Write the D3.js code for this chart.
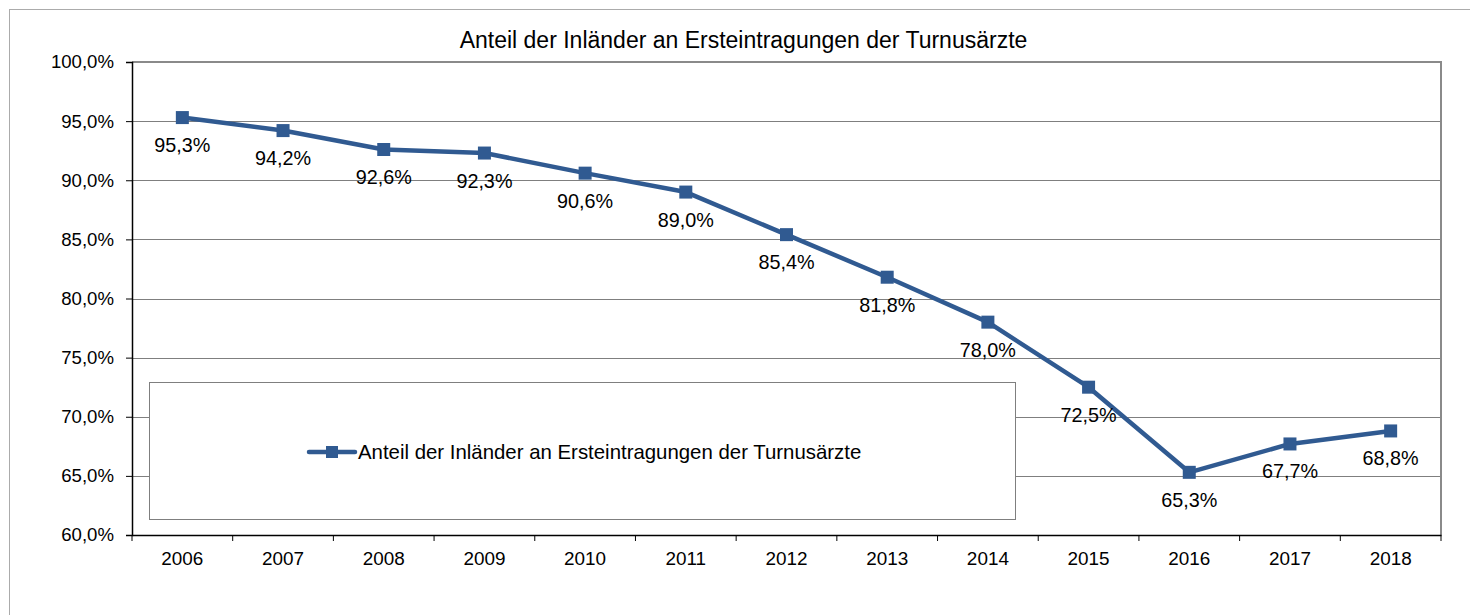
<!DOCTYPE html>
<html>
<head>
<meta charset="utf-8">
<script src="https://cdn.jsdelivr.net/npm/d3@7"></script>
<style>
html,body{margin:0;padding:0;background:#fff;}
svg{display:block;font-family:"Liberation Sans",Arial,sans-serif;}
</style>
</head>
<body>
<svg id="chart" width="1470" height="615"></svg>
<script>
const title = "Anteil der Inländer an Ersteintragungen der Turnusärzte";
const seriesName = "Anteil der Inländer an Ersteintragungen der Turnusärzte";
const years = ["2006","2007","2008","2009","2010","2011","2012","2013","2014","2015","2016","2017","2018"];
const values = [95.3, 94.2, 92.6, 92.3, 90.6, 89.0, 85.4, 81.8, 78.0, 72.5, 65.3, 67.7, 68.8];
const yTicks = [60, 65, 70, 75, 80, 85, 90, 95, 100];

const svg = d3.select("#chart");
const W = 1470, H = 615;
const m = {left:132, top:62, right:1441, bottom:535};
const lineColor = "#305a91";
const fmt = v => v.toFixed(1).replace(".", ",") + "%";
const FF = "Liberation Sans, Arial, sans-serif";

// outer frame
svg.append("rect").attr("x",9.5).attr("y",9.5).attr("width",W+20).attr("height",H+20)
  .attr("fill","#fff").attr("stroke","#ababab").attr("stroke-width",1);

const x = d3.scaleBand().domain(years).range([m.left, m.right]).padding(0);
const y = d3.scaleLinear().domain([60,100]).range([m.bottom, m.top]);

// gridlines
svg.append("g").selectAll("line").data(yTicks.filter(t=>t>60 && t<100)).join("line")
  .attr("x1",m.left).attr("x2",m.right)
  .attr("y1",d=>Math.round(y(d))+0.5).attr("y2",d=>Math.round(y(d))+0.5)
  .attr("stroke","#7f7f7f").attr("stroke-width",1);
// top & right borders
svg.append("line").attr("x1",m.left).attr("x2",m.right).attr("y1",m.top).attr("y2",m.top)
  .attr("stroke","#8a8a8a").attr("stroke-width",2);
svg.append("line").attr("x1",m.right).attr("x2",m.right).attr("y1",m.top-1).attr("y2",m.bottom)
  .attr("stroke","#8a8a8a").attr("stroke-width",2);

// y axis
const yAxis = d3.axisLeft(y).tickValues(yTicks).tickSize(6).tickPadding(12).tickFormat(fmt);
const gy = svg.append("g").attr("transform",`translate(${m.left},0)`).call(yAxis);
gy.select(".domain").attr("stroke","#000").attr("stroke-width",1.5);
gy.selectAll(".tick line").attr("stroke","#000");
gy.selectAll("text").attr("font-size",18.6).attr("fill","#000").attr("font-family",FF);

// x axis
const xAxis = d3.axisBottom(x).tickSize(0).tickPadding(17);
const gx = svg.append("g").attr("transform",`translate(0,${m.bottom})`).call(xAxis);
gx.select(".domain").attr("stroke","#000").attr("stroke-width",1.5);
gx.selectAll("text").attr("font-size",18.9).attr("fill","#000").attr("font-family",FF);
// boundary ticks
const bounds = years.map(d=>x(d)).concat([x(years[years.length-1])+x.bandwidth()]);
svg.append("g").selectAll("line").data(bounds).join("line")
  .attr("x1",d=>d).attr("x2",d=>d).attr("y1",m.bottom).attr("y2",m.bottom+6)
  .attr("stroke","#000").attr("stroke-width",1);

// legend box
const lg = svg.append("g");
lg.append("rect").attr("x",149.5).attr("y",382.5).attr("width",866).attr("height",137)
  .attr("fill","#fff").attr("stroke","#7f7f7f").attr("stroke-width",1);
lg.append("line").attr("x1",309).attr("x2",355).attr("y1",452).attr("y2",452)
  .attr("stroke",lineColor).attr("stroke-width",4.5).attr("stroke-linecap","round");
lg.append("rect").attr("x",326).attr("y",446).attr("width",12).attr("height",12).attr("fill",lineColor);
lg.append("text").attr("x",358).attr("y",458.5).attr("font-size",20.4).attr("fill","#000").text(seriesName);

// line
const cx = (d,i) => x(years[i]) + x.bandwidth()/2;
const line = d3.line().x((d,i)=>cx(d,i)).y(d=>y(d));
svg.append("path").datum(values).attr("d",line).attr("fill","none")
  .attr("stroke",lineColor).attr("stroke-width",4.5).attr("stroke-linejoin","round");
svg.append("g").selectAll("rect").data(values).join("rect")
  .attr("x",(d,i)=>cx(d,i)-6.5).attr("y",d=>y(d)-6.5).attr("width",13).attr("height",13)
  .attr("fill",lineColor);

// data labels
svg.append("g").selectAll("text").data(values).join("text")
  .attr("x",(d,i)=>cx(d,i)).attr("y",d=>y(d)+34.5)
  .attr("text-anchor","middle").attr("font-size",19.8).attr("fill","#000").text(fmt);

// title
svg.append("text").attr("x",743.5).attr("y",47.5).attr("text-anchor","middle")
  .attr("font-size",23).attr("fill","#000").text(title);
</script>
</body>
</html>
